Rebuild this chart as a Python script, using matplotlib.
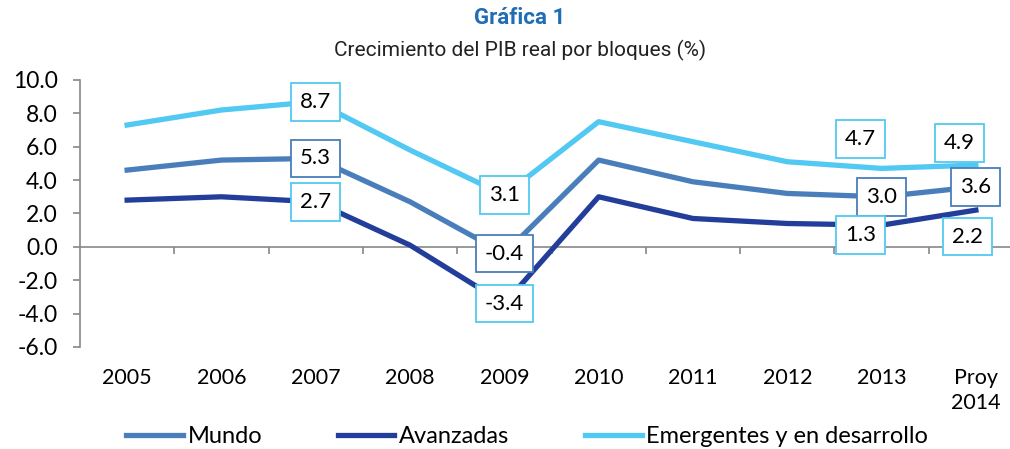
import numpy as np
import matplotlib
matplotlib.use('Agg')
import matplotlib.pyplot as plt

plt.rcParams['font.family'] = ['Lato', 'DejaVu Sans']

# Datos
anios = ['2005', '2006', '2007', '2008', '2009', '2010', '2011', '2012', '2013', 'Proy\n2014']
mundo = [4.6, 5.2, 5.3, 2.7, -0.4, 5.2, 3.9, 3.2, 3.0, 3.6]
avanzadas = [2.8, 3.0, 2.7, 0.1, -3.4, 3.0, 1.7, 1.4, 1.3, 2.2]
emergentes = [7.3, 8.2, 8.7, 5.8, 3.1, 7.5, 6.3, 5.1, 4.7, 4.9]

c_mundo = '#4A7EBB'
c_avanz = '#223E9A'
c_emerg = '#52C9F2'

# etiquetas: índice -> desplazamiento en puntos
etq_mundo = {2: (0, 0), 4: (0, 0), 8: (0, 0), 9: (0, 0)}
etq_avanz = {2: (0, 0), 4: (0, 0), 8: (-15, -7), 9: (-6, -19)}
etq_emerg = {2: (0, 0), 4: (0, 0), 8: (-15, 21), 9: (-12, 16)}

fig = plt.figure(figsize=(10.1, 4.49), dpi=100)
ax = fig.add_axes([0.0792, 0.2272, 0.9337, 0.5947])

x = np.arange(len(anios))
lw = 3.8
ax.plot(x, emergentes, color=c_emerg, lw=lw, label='Emergentes y en desarrollo', zorder=3)
ax.plot(x, mundo, color=c_mundo, lw=lw, label='Mundo', zorder=3)
ax.plot(x, avanzadas, color=c_avanz, lw=lw, label='Avanzadas', zorder=3)

def etiquetar(serie, etq, borde):
    for i, (dx, dy) in etq.items():
        ax.annotate(f'{serie[i]:.1f}', (x[i], serie[i]), xytext=(dx, dy),
                    textcoords='offset points', ha='center', va='center',
                    fontsize=16, zorder=5,
                    bbox=dict(boxstyle='square,pad=0.4', fc='white', ec=borde, lw=1.3))

etiquetar(emergentes, etq_emerg, c_emerg)
etiquetar(mundo, etq_mundo, c_mundo)
etiquetar(avanzadas, etq_avanz, c_emerg)

ax.set_xlim(-0.5, len(anios) - 0.5)
ax.set_ylim(-6, 10)
ax.set_yticks(np.arange(-6, 10.1, 2))
ax.set_yticklabels([f'{v:.1f}' for v in np.arange(-6, 10.1, 2)])
ax.tick_params(axis='y', labelsize=16.5, color='#888888', length=5, width=1.2, pad=11)

for s in ['top', 'right']:
    ax.spines[s].set_visible(False)
ax.spines['left'].set_color('#888888')
ax.spines['left'].set_linewidth(1.2)
ax.spines['bottom'].set_position(('data', 0))
ax.spines['bottom'].set_color('#888888')
ax.spines['bottom'].set_linewidth(1.2)
ax.set_xticks(np.arange(0.5, len(anios) - 0.5, 1))
ax.set_xticklabels([])
ax.tick_params(axis='x', color='#888888', length=5, width=1.2)

sec = ax.secondary_xaxis('bottom')
sec.spines['bottom'].set_visible(False)
sec.set_xticks(x)
sec.set_xticklabels(anios, fontsize=15.5, linespacing=1.35)
sec.tick_params(length=0, pad=15)

h, l = ax.get_legend_handles_labels()
orden = [1, 2, 0]
fig.legend([h[i] for i in orden], [l[i] for i in orden], loc='center',
           bbox_to_anchor=(0.522, 0.027), ncol=3, frameon=False, fontsize=17,
           handlelength=2.4, handletextpad=0.2, columnspacing=3.2)

fuente_titulo = ['Liberation Sans Narrow', 'Roboto', 'DejaVu Sans']
fig.text(0.515, 0.96, 'Gráfica 1', ha='center', va='center', fontsize=16,
         fontweight='bold', color='#1F6DB5', family=fuente_titulo)
fig.text(0.515, 0.888, 'Crecimiento del PIB real por bloques (%)', ha='center', va='center',
         fontsize=15, color='#222222', family=fuente_titulo)

fig.savefig('out.png', dpi=100)
